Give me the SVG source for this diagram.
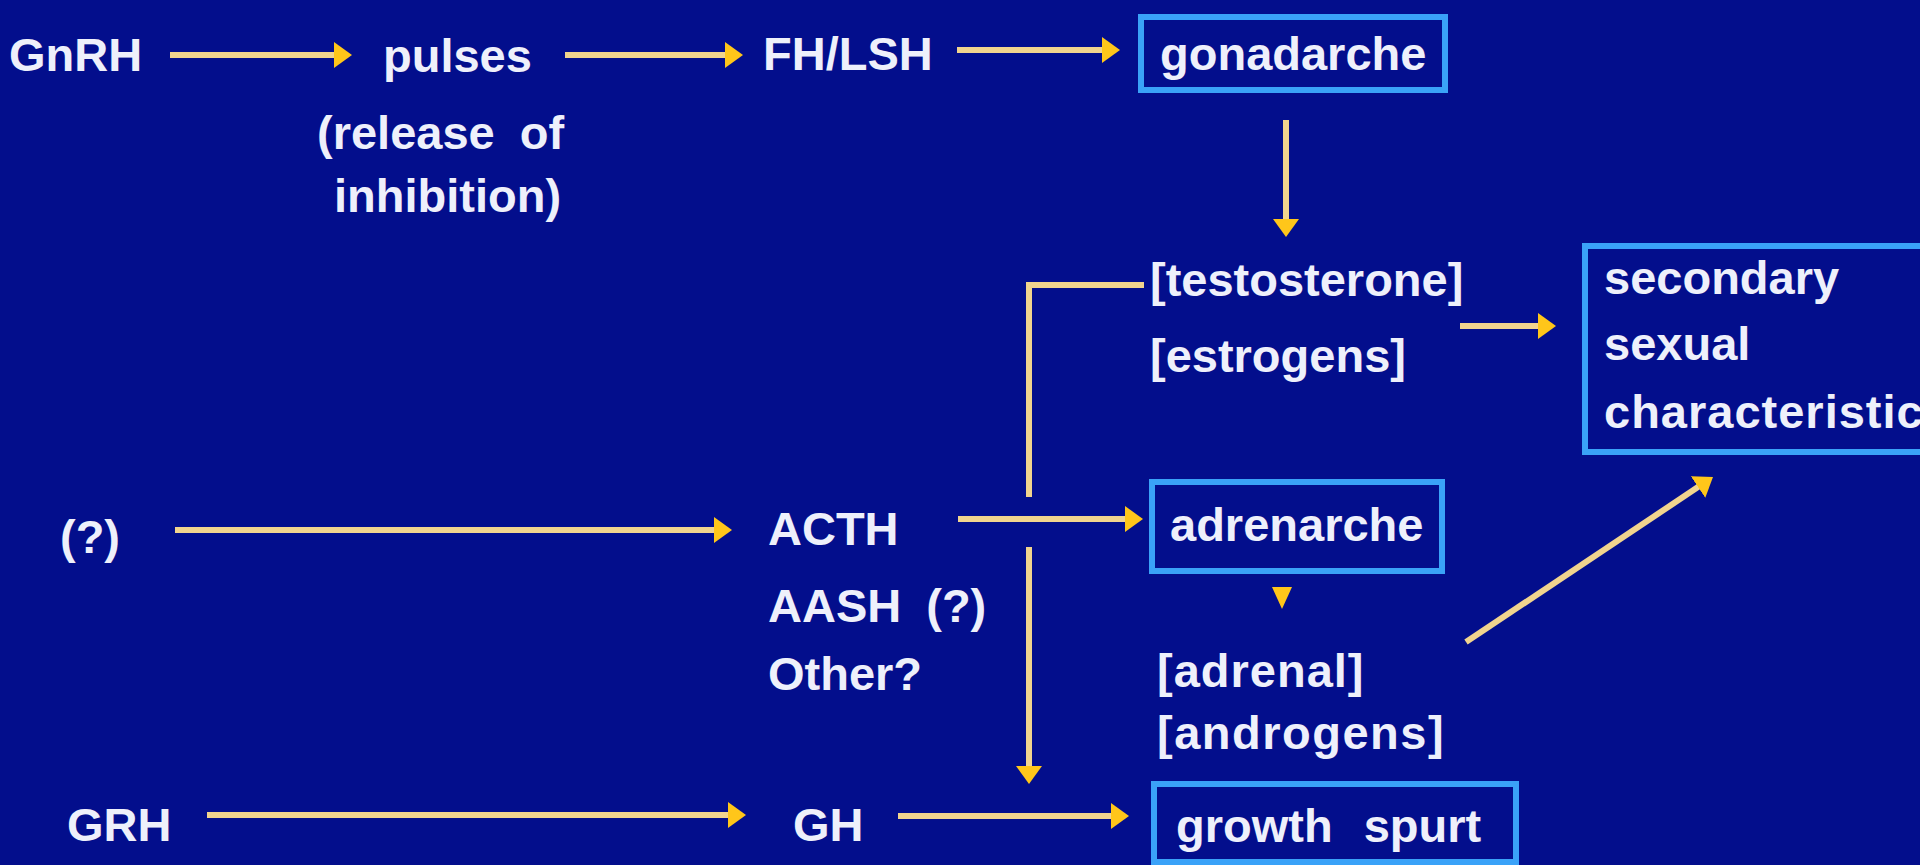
<svg xmlns="http://www.w3.org/2000/svg" width="1920" height="865" viewBox="0 0 1920 865">
<style>
.t{font-family:"Liberation Sans",Arial,sans-serif;font-weight:bold;font-size:47px;fill:#eef0fb}
.box{fill:none;stroke:#3aa2f8;stroke-width:6}
.c{fill:none;stroke:#f1d48e;stroke-width:6}
.a{marker-end:url(#ah)}
</style>
<defs>
<marker id="ah" viewBox="0 0 18 26" refX="8" refY="13" markerWidth="18" markerHeight="26" markerUnits="userSpaceOnUse" orient="auto">
<path d="M0,0 L18,13 L0,26 Z" fill="#ffc61a"/>
</marker>
</defs>
<rect x="0" y="0" width="1920" height="865" fill="#030e8c"/>
<g id="connectors">
<path class="c a" d="M170,55 H342"/>
<path class="c a" d="M565,55 H733"/>
<path class="c a" d="M957,50 H1110"/>
<path class="c a" d="M1286,120 V227"/>
<path class="c" d="M1144,285 H1029 V497"/>
<path class="c a" d="M1029,547 V774"/>
<path class="c a" d="M1460,326 H1546"/>
<path class="c a" d="M175,530 H722"/>
<path class="c a" d="M958,519 H1133"/>
<path d="M1272,587 L1292,587 L1282,609 Z" fill="#ffc61a"/>
<path class="c a" d="M1466,642 L1704.7,482.6"/>
<path class="c a" d="M207,815 H736"/>
<path class="c a" d="M898,816 H1119"/>
</g>
<g id="gnrh"><text class="t" x="9" y="71">GnRH</text></g>
<g id="pulses">
<text class="t" x="383" y="72">pulses</text>
<text class="t" x="317" y="149">(release <tspan dx="12">of</tspan></text>
<text class="t" x="334" y="212">inhibition)</text>
</g>
<g id="fhlsh"><text class="t" x="763" y="70">FH/LSH</text></g>
<g id="gonadarche">
<rect class="box" x="1141" y="17" width="304" height="73"/>
<text class="t" x="1160" y="70">gonadarche</text>
</g>
<g id="sex-steroids">
<text class="t" x="1150" y="296">[testosterone]</text>
<text class="t" x="1150" y="372">[estrogens]</text>
</g>
<g id="secondary">
<rect class="box" x="1585" y="246" width="345" height="206"/>
<text class="t" x="1604" y="294">secondary</text>
<text class="t" x="1604" y="360">sexual</text>
<text class="t" x="1604" y="428" letter-spacing="1">characteristic</text>
</g>
<g id="unknown"><text class="t" x="60" y="553">(?)</text></g>
<g id="acth">
<text class="t" x="768" y="545">ACTH</text>
<text class="t" x="768" y="622">AASH <tspan dx="12">(?)</tspan></text>
<text class="t" x="768" y="690">Other?</text>
</g>
<g id="adrenarche">
<rect class="box" x="1152" y="482" width="290" height="89"/>
<text class="t" x="1170" y="541">adrenarche</text>
</g>
<g id="adrenal-androgens">
<text class="t" x="1157" y="687" letter-spacing="1">[adrenal]</text>
<text class="t" x="1157" y="749" letter-spacing="1.5">[androgens]</text>
</g>
<g id="grh"><text class="t" x="67" y="841">GRH</text></g>
<g id="gh"><text class="t" x="793" y="841">GH</text></g>
<g id="growth-spurt">
<rect class="box" x="1154" y="784" width="362" height="78"/>
<text class="t" x="1176" y="842">growth <tspan dx="18">spurt</tspan></text>
</g>
</svg>
